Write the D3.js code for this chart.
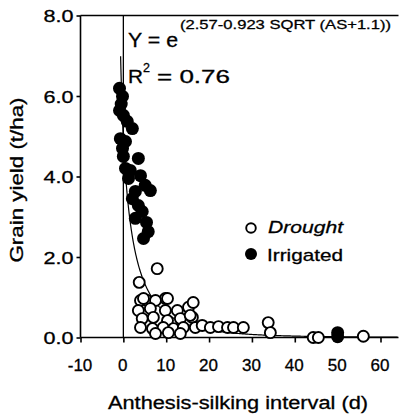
<!DOCTYPE html>
<html><head><meta charset="utf-8">
<script src="https://cdn.jsdelivr.net/npm/d3@7/dist/d3.min.js"></script>
<style>body{margin:0;background:#fff}svg{display:block}text{font-family:"Liberation Sans",Arial,sans-serif;fill:#000;stroke:#000;stroke-width:0.3px}</style>
</head><body><svg id="c" width="403" height="416"></svg>
<script>
const xTicks=[-10,0,10,20,30,40,50,60];
const yTicks=[0,2,4,6,8];
const droughtAS=[7.9,3.7,9.8,4.0,5.6,4.7,7.5,10.3,3.5,6.3,9.8,12.6,15.2,16.3,4.4,7.0,10.3,13.3,16.1,4.0,6.8,9.3,11.7,14.0,16.8,7.5,10.5,13.3,15.6,18.4,20.3,22.2,24.3,25.7,28.0,33.8,34.3,44.3,45.5,56.0];
const droughtY=[1.71,1.37,0.97,0.92,0.92,0.97,0.92,0.97,0.67,0.72,0.67,0.67,0.75,0.87,0.47,0.50,0.42,0.47,0.50,0.25,0.22,0.25,0.22,0.25,0.25,0.10,0.12,0.10,0.55,0.30,0.25,0.27,0.25,0.25,0.25,0.37,0.12,0.0,0.0,0.03];
const irrAS=[-0.9,-0.2,-0.5,-0.9,0,0.9,2.1,-0.7,0.5,-0.2,0,3.5,0.5,1.6,4.0,1.2,5.1,6.3,2.8,2.1,3.5,4.4,2.8,5.4,5.8,4.7,50,50];
const irrY=[6.19,5.99,5.8,5.64,5.52,5.37,5.19,4.94,4.87,4.7,4.5,4.45,4.2,4.15,4.02,3.95,3.78,3.65,3.63,3.45,3.28,3.13,2.96,2.86,2.63,2.46,0.12,0.02];
const fit={a:2.57,b:0.923,c:1.1};
const fitStart=-0.64, fitEnd=64;

const svg=d3.select("#c");
const x=d3.scaleLinear().domain([-10,60]).range([80.5,380.5]);
const y=d3.scaleLinear().domain([0,8]).range([337.5,15.5]);
const x0=x(-10), x1=x(64.2);
const FONT="Liberation Sans, Arial, sans-serif";

// top frame line
svg.append("line").attr("x1",x0).attr("x2",x1).attr("y1",y(8)).attr("y2",y(8)).attr("stroke","#000").attr("stroke-width",1.6);
// x axis
const xa=svg.append("g").attr("transform",`translate(0,${y(0)})`)
 .call(d3.axisBottom(x).tickValues(xTicks).tickSize(5).tickFormat(d=>String(d)));
xa.select(".domain").attr("d",`M${x0},0H${x1}`);
// y axis
const ya=svg.append("g").attr("transform",`translate(${x0},0)`)
 .call(d3.axisLeft(y).tickValues(yTicks).tickSize(4).tickFormat(d3.format(".1f")));
[xa,ya].forEach(g=>{g.selectAll("path,line").attr("stroke","#000").attr("stroke-width",1.6);
 g.selectAll("text").attr("font-size",17).attr("font-family",FONT).attr("fill","#000");});
xa.selectAll("text").attr("y",0).attr("dy",0).attr("transform","translate(-1,33)");
ya.selectAll("text").attr("x",-7).attr("dy","0.36em").attr("textLength",30).attr("lengthAdjust","spacingAndGlyphs");
ya.select(".domain").attr("d",`M0,${y(8)}V${y(0)}`);

// zero reference line
svg.append("line").attr("x1",x(0)).attr("x2",x(0)).attr("y1",y(8)).attr("y2",y(0)).attr("stroke","#000").attr("stroke-width",1.3);

// fitted curve
const xs=d3.range(0,401).map(i=>fitStart+(fitEnd-fitStart)*Math.pow(i/400,2));
const line=d3.line().x(d=>x(d)).y(d=>y(Math.exp(fit.a-fit.b*Math.sqrt(d+fit.c))));
svg.append("path").attr("d",line(xs)).attr("fill","none").attr("stroke","#000").attr("stroke-width",1.2);

// points
const r=5.5;
svg.append("g").selectAll("circle").data(droughtAS.map((d,i)=>[d,droughtY[i]])).join("circle")
 .attr("cx",d=>x(d[0])).attr("cy",d=>y(d[1])).attr("r",r).attr("fill","#fff").attr("stroke","#000").attr("stroke-width",1.9);
svg.append("g").selectAll("circle").data(irrAS.map((d,i)=>[d,irrY[i]])).join("circle")
 .attr("cx",d=>x(d[0])).attr("cy",d=>y(d[1])).attr("r",r+1).attr("fill","#000");

// equation
svg.append("text").attr("x",128).attr("y",47).attr("font-size",20).attr("textLength",50).attr("lengthAdjust","spacingAndGlyphs").text("Y = e");
svg.append("text").attr("x",180).attr("y",29).attr("font-size",13.5).attr("textLength",211).attr("lengthAdjust","spacingAndGlyphs").text("(2.57-0.923 SQRT (AS+1.1))");
svg.append("text").attr("x",128).attr("y",83).attr("font-size",19).attr("textLength",15).attr("lengthAdjust","spacingAndGlyphs").text("R");
svg.append("text").attr("x",143).attr("y",72).attr("font-size",12.5).text("2");
svg.append("text").attr("x",157).attr("y",83).attr("font-size",19).attr("textLength",73).attr("lengthAdjust","spacingAndGlyphs").text("= 0.76");

// legend
svg.append("circle").attr("cx",251).attr("cy",228).attr("r",4.8).attr("fill","#fff").attr("stroke","#000").attr("stroke-width",1.9);
svg.append("text").attr("x",268).attr("y",233).attr("font-size",17).attr("font-style","italic").attr("textLength",75).attr("lengthAdjust","spacingAndGlyphs").text("Drought");
svg.append("circle").attr("cx",251).attr("cy",254).attr("r",6).attr("fill","#000");
svg.append("text").attr("x",267).attr("y",261).attr("font-size",17).attr("textLength",76).attr("lengthAdjust","spacingAndGlyphs").text("Irrigated");

// axis titles
svg.append("text").attr("x",238).attr("y",409).attr("text-anchor","middle").attr("font-size",18).attr("textLength",260).attr("lengthAdjust","spacingAndGlyphs").text("Anthesis-silking interval (d)");
svg.append("text").attr("transform","translate(23,180) rotate(-90)").attr("text-anchor","middle").attr("font-size",18).attr("textLength",165).attr("lengthAdjust","spacingAndGlyphs").text("Grain yield (t/ha)");
</script></body></html>
